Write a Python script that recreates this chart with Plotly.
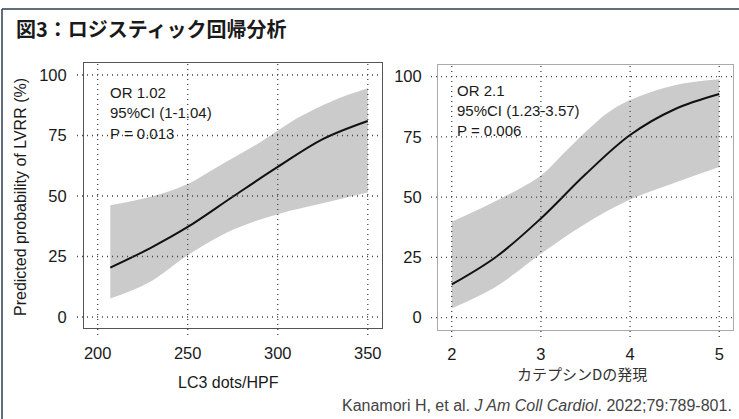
import plotly.graph_objects as go

W, H = 739, 419

# ---------------- data ----------------
lc3_x = [207, 229, 250, 275, 300, 325, 350]
lc3_prob = [20.4, 28.4, 37.2, 49.7, 62.0, 73.5, 81.0]
lc3_upper_x = [207, 229, 250, 266, 286, 300, 312, 331, 350]
lc3_upper = [46.2, 49.6, 55.0, 61.8, 70.3, 77.0, 82.6, 89.5, 94.5]
lc3_lower_x = [207, 229, 250, 275, 300, 325, 350]
lc3_lower = [7.6, 14.5, 25.5, 36.0, 42.5, 47.0, 51.4]

ctsd_x = [2, 2.5, 3, 3.5, 4, 4.5, 5]
ctsd_prob = [13.8, 25.3, 41.2, 59.5, 75.8, 86.5, 92.8]
ctsd_upper_x = [2, 2.5, 3, 3.25, 3.5, 3.75, 4, 4.5, 5]
ctsd_upper = [39.8, 48.5, 59.0, 68.0, 77.0, 85.0, 90.3, 96.5, 98.9]
ctsd_lower_x = [2, 2.5, 3, 3.5, 4, 4.5, 5]
ctsd_lower = [3.9, 13.0, 26.5, 39.0, 49.0, 56.0, 62.5]

lc3_ticks = [200, 250, 300, 350]
ctsd_ticks = [2, 3, 4, 5]
y_ticks = [0, 25, 50, 75, 100]

title_text = "図3：ロジスティック回帰分析"
y_title = "Predicted probability of LVRR (%)"
x1_title = "LC3 dots/HPF"
x2_title = "カテプシンDの発現"
left_stats = ["OR 1.02", "95%CI (1-1.04)", "P = 0.013"]
right_stats = ["OR 2.1", "95%CI (1.23-3.57)", "P = 0.006"]
citation = "Kanamori H, et al. <i>J Am Coll Cardiol</i>. 2022;79:789-801."

# ---------------- helpers ----------------
def px(x):
    return x / W

def py(y):
    return 1 - y / H

BAND = "#cbcbcb"
FONT = "Liberation Sans, Arial, sans-serif"
JFONT = "Noto Sans CJK JP, sans-serif"

fig = go.Figure()

for (lx, ly, ux, uy, cx, cy, xa, ya) in [
    (lc3_lower_x, lc3_lower, lc3_upper_x, lc3_upper, lc3_x, lc3_prob, "x", "y"),
    (ctsd_lower_x, ctsd_lower, ctsd_upper_x, ctsd_upper, ctsd_x, ctsd_prob, "x2", "y2"),
]:
    fig.add_trace(go.Scatter(x=lx, y=ly, mode="lines", line=dict(width=0, shape="spline", color=BAND),
                             xaxis=xa, yaxis=ya, showlegend=False, hoverinfo="skip"))
    fig.add_trace(go.Scatter(x=ux, y=uy, mode="lines", line=dict(width=0, shape="spline", color=BAND),
                             fill="tonexty", fillcolor=BAND,
                             xaxis=xa, yaxis=ya, showlegend=False, hoverinfo="skip"))
    fig.add_trace(go.Scatter(x=cx, y=cy, mode="lines", line=dict(width=2, shape="spline", color="#111111"),
                             xaxis=xa, yaxis=ya, showlegend=False))

# panel boxes (pixel positions)
L = dict(l=84, r=382, t=63, b=328)
R = dict(l=438, r=733, t=65, b=330)

axis_common = dict(showgrid=False, zeroline=False, showline=True, mirror=True, linewidth=1,
                   ticks="", tickfont=dict(family=FONT, size=16.5, color="#1a1a1a"))

fig.update_layout(
    width=W, height=H, margin=dict(l=0, r=0, t=0, b=0),
    paper_bgcolor="white", plot_bgcolor="white",
    xaxis=dict(domain=[px(L["l"]), px(L["r"])], range=[192.4, 357.9], tickvals=lc3_ticks,
               anchor="y", linecolor="#555555", ticklabelstandoff=10, **axis_common),
    yaxis=dict(domain=[py(L["b"]), py(L["t"])], range=[-4.55, 104.96], tickvals=y_ticks,
               anchor="x", linecolor="#555555", ticklabelstandoff=13, **axis_common),
    xaxis2=dict(domain=[px(R["l"]), px(R["r"])], range=[1.846, 5.154], tickvals=ctsd_ticks,
                anchor="y2", linecolor="#aaaaaa", ticklabelstandoff=9, **axis_common),
    yaxis2=dict(domain=[py(R["b"]), py(R["t"])], range=[-5.1, 104.85], tickvals=y_ticks,
                anchor="x2", linecolor="#aaaaaa", ticklabelstandoff=12, **axis_common),
)

shapes = []
dot = dict(color="#444444", width=1.3, dash="1px,4px")
for v in lc3_ticks:
    shapes.append(dict(type="line", xref="x", yref="paper", x0=v, x1=v,
                       y0=py(L["b"] + 7), y1=py(L["t"]), line=dot, layer="above"))
for v in y_ticks:
    shapes.append(dict(type="line", xref="paper", yref="y", x0=px(L["l"] - 7), x1=px(L["r"]),
                       y0=v, y1=v, line=dot, layer="above"))
for v in ctsd_ticks:
    shapes.append(dict(type="line", xref="x2", yref="paper", x0=v, x1=v,
                       y0=py(R["b"] + 7), y1=py(R["t"]), line=dot, layer="above"))
for v in y_ticks:
    shapes.append(dict(type="line", xref="paper", yref="y2", x0=px(R["l"] - 7), x1=px(R["r"]),
                       y0=v, y1=v, line=dot, layer="above"))
# outer frame (top and left)
frame = dict(color="#2d3e50", width=1.5)
shapes.append(dict(type="line", xref="paper", yref="paper", x0=px(2), x1=1, y0=py(9), y1=py(9), line=frame))
shapes.append(dict(type="line", xref="paper", yref="paper", x0=px(2), x1=px(2), y0=0, y1=py(9), line=frame))
fig.update_layout(shapes=shapes)

ann = []
ann.append(dict(text="<b>" + title_text + "</b>", x=px(14), y=py(28), xref="paper", yref="paper",
                xanchor="left", yanchor="middle", showarrow=False,
                font=dict(family=JFONT, size=20, color="#1a1a1a")))
ann.append(dict(text=y_title, x=px(20), y=py(197), xref="paper", yref="paper", textangle=-90,
                xanchor="center", yanchor="middle", showarrow=False,
                font=dict(family=FONT, size=16, color="#1a1a1a")))
ann.append(dict(text=x1_title, x=px(228), y=py(382), xref="paper", yref="paper",
                xanchor="center", yanchor="middle", showarrow=False,
                font=dict(family=FONT, size=16, color="#1a1a1a")))
ann.append(dict(text=x2_title, x=px(582), y=py(373), xref="paper", yref="paper",
                xanchor="center", yanchor="middle", showarrow=False,
                font=dict(family=JFONT, size=15, color="#333333")))
ann.append(dict(text=citation, x=px(734), y=py(405), xref="paper", yref="paper",
                xanchor="right", yanchor="middle", showarrow=False,
                font=dict(family=FONT, size=16, color="#444444")))
for i, t in enumerate(left_stats):
    ann.append(dict(text=t, x=px(108), y=py(92 + 20.5 * i), xref="paper", yref="paper",
                    xanchor="left", yanchor="middle", showarrow=False,
                    font=dict(family=FONT, size=15, color="#1a1a1a")))
for i, t in enumerate(right_stats):
    ann.append(dict(text=t, x=px(455), y=py(90 + 20 * i), xref="paper", yref="paper",
                    xanchor="left", yanchor="middle", showarrow=False,
                    font=dict(family=FONT, size=15, color="#1a1a1a")))
fig.update_layout(annotations=ann)

fig.write_html("out.html", config={"displayModeBar": False},
               post_script="document.body.style.margin='0';document.body.style.overflow='hidden';")
